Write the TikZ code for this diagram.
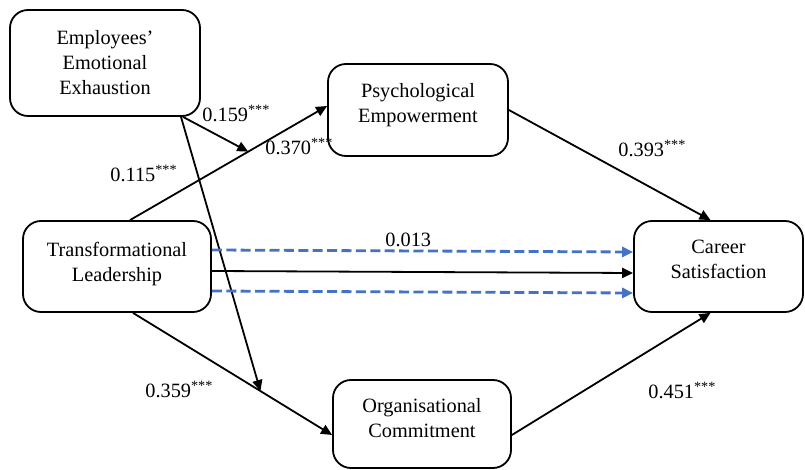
\documentclass[tikz,border=0pt]{standalone}
\usepackage{fontspec}
\setmainfont{Liberation Serif}
\usetikzlibrary{arrows.meta}
\definecolor{dashblue}{HTML}{4472C4}

\begin{document}
\begin{tikzpicture}[x=0.5pt,y=-0.5pt,font=\fontsize{10.15}{12.5}\selectfont,
	box/.style={draw,line width=0.9pt,rounded corners=9pt,align=center},
	arr/.style={line width=0.9pt,-{Triangle[length=5.5pt,width=5pt]}},
	dasharr/.style={arr,line width=1.4pt,dashblue,dash pattern=on 5pt off 2.2pt},
	coef/.style={anchor=base west,inner sep=0pt}]
	\useasboundingbox (0,0) rectangle (805,470);
	\node[box,minimum width=95pt,minimum height=53pt] (eee) at (105,63) {Employees’\\Emotional\\Exhaustion};
	\node[box,minimum width=90pt,minimum height=46pt,text depth=7.5pt] (pe) at (418,110) {Psychological\\Empowerment};
	\node[box,minimum width=94pt,minimum height=45.5pt,text depth=5pt] (tl) at (117,266.5) {Transformational\\Leadership};
	\node[box,minimum width=84.5pt,minimum height=45.5pt,text depth=7pt] (cs) at (718.5,266.5) {Career\\Satisfaction};
	\node[box,minimum width=89pt,minimum height=44pt,text depth=6pt] (oc) at (422,424) {Organisational\\Commitment};
	\draw[arr] ([xshift=6.5pt]tl.north) -- coordinate[pos=0.6] (m1) ([yshift=2pt]pe.west);
	\draw[arr] ([xshift=8pt]tl.south) -- coordinate[pos=0.64] (m2) ([yshift=-5.5pt]oc.west);
	\draw[arr] ([xshift=39pt]eee.south) -- (m1);
	\draw[arr] ([xshift=38pt]eee.south) -- (m2);
	\draw[arr] (pe.east) -- ([xshift=-4pt]cs.north);
	\draw[arr] ([yshift=-5.5pt]oc.east) -- ([xshift=-4pt]cs.south);
	\draw[dasharr] ([yshift=8.25pt]tl.east) -- ([yshift=7.25pt]cs.west);
	\draw[arr] ([yshift=-2.25pt]tl.east) -- ([yshift=-3.25pt]cs.west);
	\draw[dasharr] ([yshift=-12.25pt]tl.east) -- ([yshift=-13.25pt]cs.west);
	\node[coef] (c1) at (202,122) {0.159\textsuperscript{***}};
	\node[coef] (c2) at (265,155) {0.370\textsuperscript{***}};
	\node[coef] (c3) at (110,182) {0.115\textsuperscript{***}};
	\node[coef] (c4) at (145,398) {0.359\textsuperscript{***}};
	\node[coef] (c5) at (385,247) {0.013};
	\node[coef] (c6) at (618,157) {0.393\textsuperscript{***}};
	\node[coef] (c7) at (648,399) {0.451\textsuperscript{***}};
\end{tikzpicture}
\end{document}
